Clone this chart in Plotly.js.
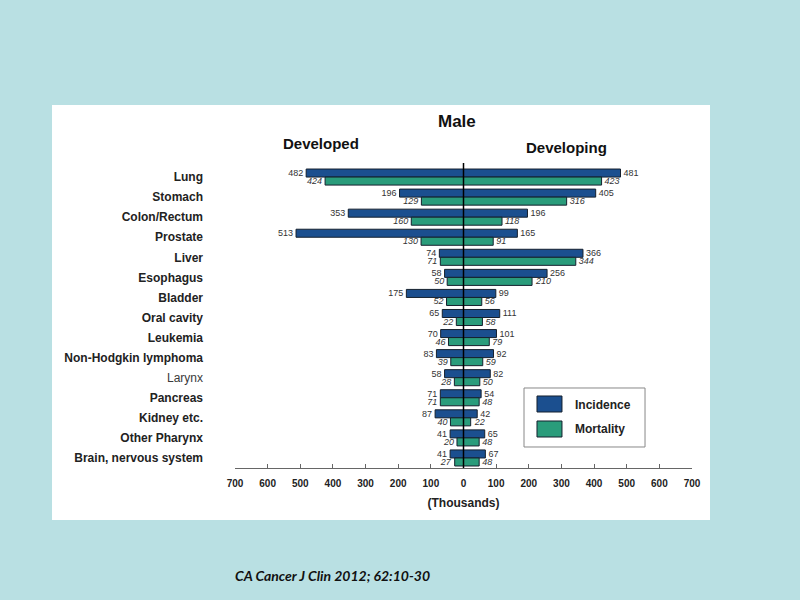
<!DOCTYPE html>
<html>
<head>
<meta charset="utf-8">
<script src="https://cdn.plot.ly/plotly-3.0.1.min.js"></script>
<style>
html,body{margin:0;padding:0;background:#b9e0e3;}
#chart{width:800px;height:600px;}
</style>
</head>
<body>
<div id="chart"></div>
<script>
var categories = ["Lung","Stomach","Colon/Rectum","Prostate","Liver","Esophagus","Bladder","Oral cavity","Leukemia","Non-Hodgkin lymphoma","Larynx","Pancreas","Kidney etc.","Other Pharynx","Brain, nervous system"];
var developedIncidence = [482,196,353,513,74,58,175,65,70,83,58,71,87,41,41];
var developedMortality = [424,129,160,130,71,50,52,22,46,39,28,71,40,20,27];
var developingIncidence = [481,405,196,165,366,256,99,111,101,92,82,54,42,65,67];
var developingMortality = [423,316,118,91,344,210,56,58,79,59,50,48,22,48,48];
var tickValues = [-700,-600,-500,-400,-300,-200,-100,0,100,200,300,400,500,600,700];
var tickLabels = ["700","600","500","400","300","200","100","0","100","200","300","400","500","600","700"];

var BLUE = "#1b4f8f", GREEN = "#2a9c7b", EDGE = "#15202e";
var FONT = "Liberation Sans, Arial, sans-serif";

function neg(a){ return a.map(function(v){ return -v; }); }
function txt(a){ return a.map(function(v){ return String(v); }); }

function barTrace(x, labels, color, offset, italic){
  return {
    type: "bar", orientation: "h", y: categories, x: x,
    width: 0.4, offset: offset,
    marker: {color: color, line: {color: EDGE, width: 1}},
    text: labels, textposition: "outside", constraintext: "none", cliponaxis: false,
    textfont: {family: FONT, size: 9, color: "#333", style: italic ? "italic" : "normal"},
    hoverinfo: "skip", showlegend: false
  };
}

var data = [
  barTrace(neg(developedIncidence), txt(developedIncidence), BLUE, -0.4, false),
  barTrace(neg(developedMortality), txt(developedMortality), GREEN, 0, true),
  barTrace(developingIncidence, txt(developingIncidence), BLUE, -0.4, false),
  barTrace(developingMortality, txt(developingMortality), GREEN, 0, true)
];

var yTickText = categories.map(function(c){
  return c === "Larynx" ? '<span style="color:#3a3a3a">' + c + '</span>' : '<b>' + c + '</b>';
});

var layout = {
  width: 800, height: 600,
  margin: {l: 235, r: 108, t: 163, b: 132},
  paper_bgcolor: "#b9e0e3", plot_bgcolor: "rgba(0,0,0,0)",
  barmode: "overlay",
  font: {family: FONT, color: "#222"},
  showlegend: false,
  xaxis: {
    range: [-700, 700], tickvals: tickValues, ticktext: tickLabels,
    ticks: "inside", ticklen: 4, tickcolor: "#666", showline: true, linecolor: "#666", linewidth: 1,
    showgrid: false, zeroline: false, fixedrange: true, ticklabelstandoff: 6,
    tickfont: {family: FONT, size: 10, color: "#222", weight: "bold"},
    title: {text: "<b>(Thousands)</b>", font: {family: FONT, size: 12, color: "#222"}, standoff: 10}
  },
  yaxis: {
    type: "category", range: [14.5, -0.7], autorange: false,
    tickvals: categories, ticktext: yTickText,
    ticks: "", showline: false, showgrid: false, zeroline: false, fixedrange: true,
    ticklabelstandoff: 31,
    tickfont: {family: FONT, size: 12, color: "#222"}
  },
  shapes: [
    {type: "rect", xref: "paper", yref: "paper", x0: -0.4004, x1: 1.0394, y0: -0.1705, y1: 1.1902,
     fillcolor: "#ffffff", line: {width: 0}, layer: "below"},
    {type: "line", xref: "x", yref: "paper", x0: 0, x1: 0, y0: 0, y1: 1,
     line: {color: "#000", width: 1.5}, layer: "above"},
    {type: "rect", xref: "paper", yref: "paper", x0: 0.6324, x1: 0.8972, y0: 0.0689, y1: 0.2623,
     fillcolor: "#ffffff", line: {color: "#888", width: 1}, layer: "above"},
    {type: "rect", xref: "paper", yref: "paper", x0: 0.6608, x1: 0.7155, y0: 0.1836, y1: 0.2361,
     fillcolor: BLUE, line: {color: EDGE, width: 1}, layer: "above"},
    {type: "rect", xref: "paper", yref: "paper", x0: 0.6608, x1: 0.7155, y0: 0.1016, y1: 0.1541,
     fillcolor: GREEN, line: {color: EDGE, width: 1}, layer: "above"}
  ],
  annotations: [
    {text: "<b>Male</b>", xref: "x", yref: "paper", x: -20, y: 1.1377, xanchor: "center", yanchor: "middle", showarrow: false,
     font: {family: FONT, size: 17, color: "#111"}},
    {text: "<b>Developed</b>", xref: "x", yref: "paper", x: -437, y: 1.0623, xanchor: "center", yanchor: "middle", showarrow: false,
     font: {family: FONT, size: 15, color: "#111"}},
    {text: "<b>Developing</b>", xref: "x", yref: "paper", x: 317, y: 1.0492, xanchor: "center", yanchor: "middle", showarrow: false,
     font: {family: FONT, size: 15, color: "#111"}},
    {text: "<b>Incidence</b>", xref: "paper", yref: "paper", x: 0.7396, y: 0.2066, xanchor: "left", yanchor: "middle", showarrow: false,
     font: {family: FONT, size: 12, color: "#222"}},
    {text: "<b>Mortality</b>", xref: "paper", yref: "paper", x: 0.7396, y: 0.1279, xanchor: "left", yanchor: "middle", showarrow: false,
     font: {family: FONT, size: 12, color: "#222"}},
    {text: "<b><i>CA Cancer J Clin 2012; 62:10-30</i></b>", xref: "paper", yref: "paper",
     x: (332 - 235) / 457, y: (468 - 575) / 305, xanchor: "center", yanchor: "middle", showarrow: false,
     font: {family: "Lato, Liberation Sans, sans-serif", size: 14, color: "#111"}}
  ]
};

Plotly.newPlot("chart", data, layout, {displayModeBar: false, staticPlot: true});
</script>
</body>
</html>
